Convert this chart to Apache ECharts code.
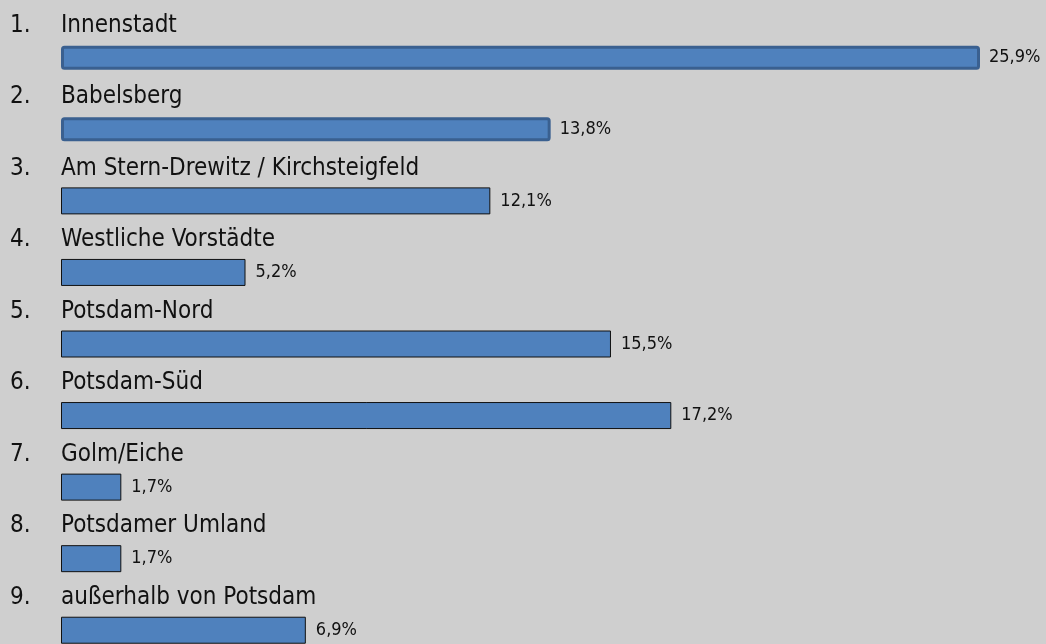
<!DOCTYPE html>
<html>
<head>
<meta charset="utf-8">
<script src="https://cdn.jsdelivr.net/npm/echarts@6/dist/echarts.min.js"></script>
<style>
  html, body { margin: 0; padding: 0; background: #cfcfcf; overflow: hidden; }
  #chart { width: 1046px; height: 700px; }
</style>
</head>
<body>
<div id="chart"></div>
<script>
// Stadtteile (ranked list) and their shares in percent
const ranks = ['1.', '2.', '3.', '4.', '5.', '6.', '7.', '8.', '9.'];
const districts = [
  'Innenstadt',
  'Babelsberg',
  'Am Stern-Drewitz / Kirchsteigfeld',
  'Westliche Vorstädte',
  'Potsdam-Nord',
  'Potsdam-Süd',
  'Golm/Eiche',
  'Potsdamer Umland',
  'außerhalb von Potsdam'
];
const shares = [25.9, 13.8, 12.1, 5.2, 15.5, 17.2, 1.7, 1.7, 6.9];
// the first two entries are drawn with a heavier blue outline
const highlighted = [true, true, false, false, false, false, false, false, false];

const FONT = 'DejaVu Sans Condensed';
const fmt = v => v.toFixed(1).replace('.', ',') + '%';

const chart = echarts.init(document.getElementById('chart'));

const valueLabel = {
  show: true,
  position: 'right',
  distance: 10,
  color: '#111',
  fontFamily: FONT,
  fontSize: 18,
  formatter: p => fmt(p.value)
};

chart.setOption({
  backgroundColor: '#cfcfcf',
  animation: false,
  grid: { left: 61, top: 22, right: 0, height: 644, containLabel: false },
  xAxis: { type: 'value', min: 0, max: 27.76, show: false },
  yAxis: [
    { type: 'category', data: districts, inverse: true, show: false },
    { type: 'category', data: districts, inverse: true, show: false }
  ],
  series: [
    {
      // plain bars with a thin dark outline
      type: 'bar',
      yAxisIndex: 0,
      data: shares.map((v, i) => (highlighted[i] ? '-' : v)),
      barWidth: 27,
      itemStyle: { color: '#4f81bd', borderColor: '#111111', borderWidth: 1 },
      label: valueLabel,
      z: 2
    },
    {
      // transparent overlay carrying the rank + district caption above each bar
      type: 'bar',
      yAxisIndex: 0,
      data: shares,
      barWidth: 27,
      barGap: '-100%',
      itemStyle: { color: 'rgba(0,0,0,0)' },
      silent: true,
      label: {
        show: true,
        position: [-51, -31],
        formatter: p => '{r|' + ranks[p.dataIndex] + '}{n|' + p.name + '}',
        rich: {
          r: { width: 51, fontFamily: FONT, fontSize: 24, color: '#111' },
          n: { fontFamily: FONT, fontSize: 24, color: '#111' }
        }
      },
      z: 3
    },
    {
      // highlighted bars with the heavier blue outline
      type: 'bar',
      yAxisIndex: 1,
      data: shares.map((v, i) => (highlighted[i] ? v : '-')),
      barWidth: 24,
      itemStyle: { color: '#4f81bd', borderColor: '#3a6090', borderWidth: 3, borderRadius: 2 },
      label: Object.assign({}, valueLabel, { distance: 9 }),
      z: 2
    }
  ]
});
</script>
</body>
</html>
